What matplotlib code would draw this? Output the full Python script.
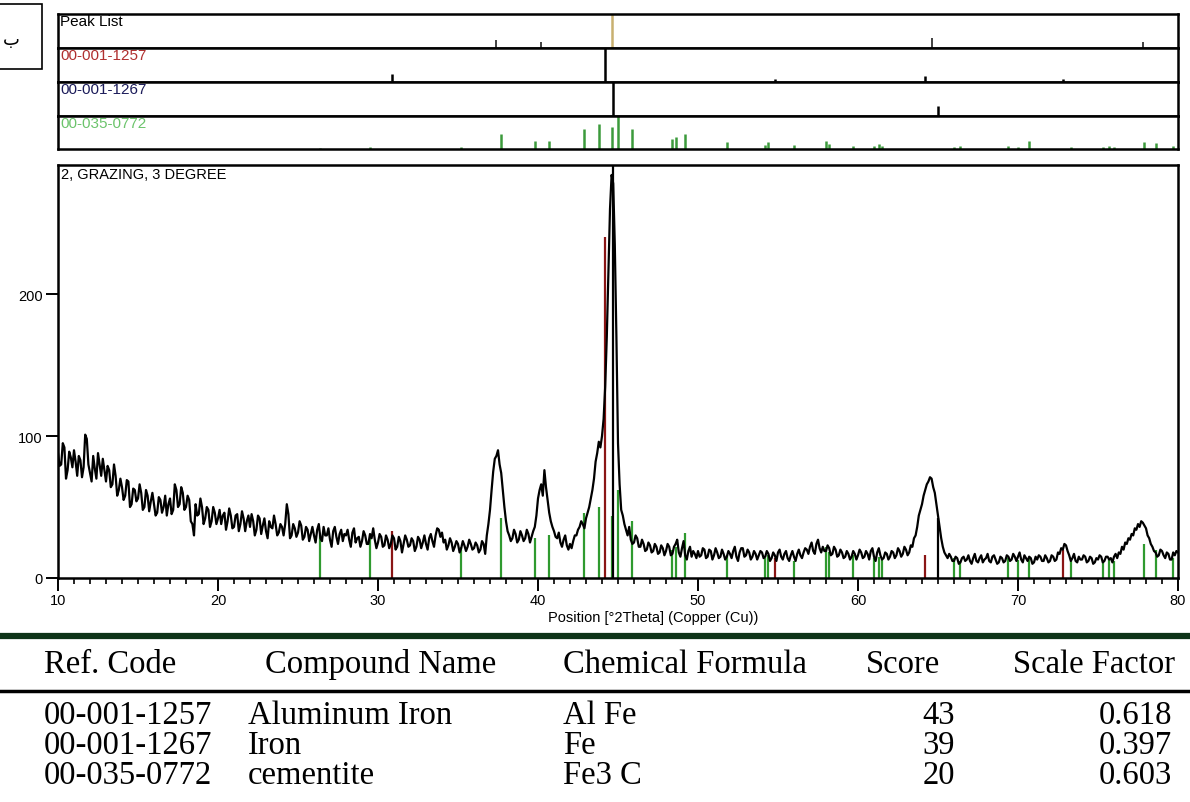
"""
XRD pattern with reference stick strips and phase table
"""
import numpy as np
import matplotlib
matplotlib.use('Agg')
import matplotlib.pyplot as plt
from matplotlib.patches import Rectangle
from matplotlib.lines import Line2D

# ---- measured pattern (counts, 0.1 deg step from 10 to 80, one row per degree) ----
two_theta = np.linspace(10, 80, 701)
counts = [
    88, 79, 80, 95, 92, 70, 76, 89, 85, 78,
    90, 82, 72, 86, 83, 71, 78, 101, 98, 80,
    74, 68, 86, 77, 70, 88, 80, 72, 84, 76,
    68, 79, 76, 64, 66, 80, 72, 58, 62, 70,
    64, 55, 58, 69, 68, 50, 52, 63, 62, 54,
    56, 66, 60, 48, 50, 62, 58, 47, 54, 60,
    52, 44, 46, 57, 55, 46, 50, 58, 44, 52,
    56, 45, 48, 66, 62, 50, 52, 64, 60, 48,
    50, 58, 55, 40, 38, 30, 52, 44, 45, 56,
    50, 38, 42, 50, 48, 36, 40, 50, 46, 38,
    42, 48, 38, 44, 46, 34, 40, 49, 44, 35,
    36, 44, 45, 33, 38, 47, 42, 33, 40, 44,
    36, 45, 40, 30, 34, 44, 42, 31, 37, 42,
    33, 28, 40, 36, 35, 44, 38, 30, 32, 38,
    36, 30, 38, 52, 45, 28, 30, 38, 35, 29,
    32, 40, 37, 27, 29, 36, 34, 26, 31, 36,
    30, 25, 34, 38, 28, 26, 36, 30, 30, 35,
    27, 22, 33, 36, 29, 24, 31, 34, 26, 31,
    30, 34, 27, 22, 32, 35, 25, 28, 29, 22,
    26, 33, 30, 24, 24, 31, 28, 35, 27, 21,
    25, 31, 29, 22, 23, 30, 27, 21, 24, 30,
    28, 20, 22, 29, 26, 18, 24, 30, 27, 22,
    23, 28, 26, 19, 22, 29, 27, 21, 25, 30,
    24, 20, 28, 31, 26, 22, 30, 35, 34, 29,
    32, 25, 27, 20, 23, 28, 25, 19, 22, 26,
    24, 18, 21, 26, 23, 19, 22, 27, 24, 20,
    21, 25, 23, 18, 20, 26, 24, 17, 30, 38,
    48, 62, 75, 84, 86, 90, 80, 74, 62, 50,
    40, 33, 30, 26, 28, 34, 31, 25, 27, 33,
    30, 26, 28, 34, 31, 25, 29, 33, 36, 44,
    56, 62, 66, 58, 76, 64, 55, 46, 40, 36,
    33, 29, 28, 32, 25, 22, 27, 30, 23, 20,
    24, 21, 26, 30, 30, 34, 36, 40, 38, 35,
    42, 46, 50, 56, 62, 70, 82, 88, 96, 92,
    100, 112, 135, 170, 215, 260, 284, 278, 235, 170,
    95, 66, 48, 44, 38, 34, 30, 36, 27, 24,
    25, 30, 28, 22, 22, 27, 24, 19, 20, 25,
    23, 18, 19, 24, 22, 17, 18, 23, 21, 16,
    19, 24, 22, 16, 17, 22, 24, 27, 18, 15,
    21, 26, 16, 13, 19, 22, 15, 19, 17, 14,
    19, 15, 16, 21, 20, 14, 15, 20, 19, 13,
    16, 21, 18, 14, 15, 20, 17, 13, 15, 19,
    17, 14, 19, 22, 15, 12, 18, 21, 21, 15,
    16, 20, 18, 13, 15, 19, 17, 13, 16, 19,
    18, 14, 15, 19, 17, 12, 14, 18, 16, 12,
    18, 20, 15, 13, 17, 19, 14, 12, 16, 19,
    15, 12, 17, 20, 16, 14, 18, 21, 20, 17,
    22, 25, 19, 17, 24, 27, 21, 18, 22, 19,
    19, 23, 21, 16, 17, 22, 20, 15, 16, 20,
    18, 14, 15, 19, 17, 13, 15, 19, 17, 13,
    16, 20, 18, 14, 15, 19, 17, 13, 19, 21,
    15, 12, 18, 21, 16, 13, 14, 18, 17, 13,
    15, 19, 18, 14, 16, 21, 19, 15, 17, 22,
    20, 16, 18, 23, 22, 28, 30, 36, 44, 48,
    52, 58, 62, 66, 68, 71, 70, 64, 60, 52,
    44, 36, 28, 22, 18, 16, 14, 17, 15, 12,
    12, 15, 14, 10, 11, 14, 15, 12, 13, 16,
    12, 10, 14, 17, 12, 11, 14, 16, 11, 13,
    14, 17, 12, 11, 15, 16, 13, 10, 11, 15,
    14, 11, 12, 16, 15, 12, 13, 17, 15, 12,
    15, 18, 13, 11, 16, 14, 12, 15, 14, 10,
    11, 15, 13, 16, 15, 12, 12, 16, 14, 11,
    12, 16, 15, 12, 13, 18, 17, 21, 20, 24,
    23, 19, 16, 12, 14, 17, 12, 11, 15, 13,
    13, 16, 15, 11, 12, 15, 14, 10, 11, 14,
    13, 16, 15, 11, 12, 15, 15, 13, 14, 11,
    15, 17, 14, 18, 17, 22, 20, 25, 24, 28,
    27, 31, 30, 35, 34, 38, 36, 40, 39, 37,
    35, 30, 28, 24, 22, 19, 18, 15, 16, 20,
    19, 16, 14, 18, 17, 13, 13, 18, 16, 19,
    18,
]

# ---- peak list / reference patterns ----
peak_pos = [37.4, 40.2, 44.6, 64.6, 77.8]
peak_rel = [0.22, 0.15, 1.0, 0.28, 0.15]

alfe_pos = [30.9, 44.2, 54.8, 64.2, 72.8]
alfe_rel = [0.22, 1.0, 0.08, 0.15, 0.08]
alfe_main = [33, 240, 14, 16, 20]

fe_pos = [44.7, 65.0]
fe_rel = [1.0, 0.28]
fe_main = [291, 42]

cem_pos = [26.4, 29.5, 35.2, 37.7, 39.8, 40.7, 42.9, 43.8, 44.6, 45.0,
           45.9, 48.4, 48.6, 49.2, 51.8, 54.2, 54.4, 56.0, 58.0, 58.2,
           59.7, 61.0, 61.3, 61.5, 66.0, 66.4, 69.4, 70.0, 70.7, 73.3,
           75.3, 75.7, 76.0, 77.9, 78.6, 79.7]
cem_rel = [0.04, 0.05, 0.06, 0.45, 0.25, 0.25, 0.6, 0.75, 0.65, 1.0,
           0.6, 0.3, 0.35, 0.45, 0.2, 0.12, 0.2, 0.12, 0.25, 0.15,
           0.1, 0.1, 0.15, 0.1, 0.06, 0.1, 0.08, 0.05, 0.25, 0.06,
           0.06, 0.08, 0.06, 0.2, 0.18, 0.08]
cem_main = [30, 28, 22, 42, 28, 30, 46, 50, 44, 62,
            40, 20, 22, 32, 16, 14, 16, 12, 22, 18,
            16, 14, 15, 13, 14, 12, 14, 13, 15, 12,
            12, 14, 12, 24, 20, 14]

strip_labels = ['Peak List', '00-001-1257', '00-001-1267', '00-035-0772']

# ---- table ----
table_header = ['Ref. Code', 'Compound Name', 'Chemical Formula', 'Score', 'Scale Factor']
ref_codes = ['00-001-1257', '00-001-1267', '00-035-0772']
compound_names = ['Aluminum Iron', 'Iron', 'cementite']
formulas = ['Al Fe', 'Fe', 'Fe3 C']
scores = [43, 39, 20]
scale_factors = [0.618, 0.397, 0.603]

W, H = 1190, 803
fig = plt.figure(figsize=(W / 100, H / 100), dpi=100)
SANS = 'Liberation Sans'
SERIF = 'Liberation Serif'


def add_ax(left, top, right, bottom):
    return fig.add_axes([left / W, 1 - bottom / H, (right - left) / W, (bottom - top) / H])


def fy(py):
    return 1 - py / H


# stick strips
strip_edges = [15, 48.5, 82.5, 116.5, 150]
strip_data = [(peak_pos, peak_rel, 'black'),
              (alfe_pos, alfe_rel, 'black'),
              (fe_pos, fe_rel, 'black'),
              (cem_pos, cem_rel, '#3c9a3c')]
label_colors = ['black', '#b03030', '#1c1c5a', '#6cc46c']

for i, (pos, rel, col) in enumerate(strip_data):
    sax = add_ax(58, strip_edges[i], 1178, strip_edges[i + 1])
    sax.set_xlim(10, 80)
    sax.set_ylim(0, 1)
    sax.set_xticks([])
    sax.set_yticks([])
    for sp in sax.spines.values():
        sp.set_linewidth(1.8)
    if i == 0:
        pos = np.array(pos)
        rel = np.array(rel)
        tall = rel >= 1.0
        sax.vlines(pos[~tall], 0, rel[~tall], colors='#333333', lw=1.3)
        sax.vlines(pos[tall], 0, rel[tall], colors='#c8b070', lw=1.8)
    else:
        sax.vlines(pos, 0, rel, colors=col, lw=1.8)
    sax.text(0.002, 0.99, strip_labels[i], transform=sax.transAxes,
             ha='left', va='top', fontsize=11, family=SANS, color=label_colors[i])

# main pattern
ax = add_ax(58, 166, 1178, 579)
ax.vlines(cem_pos, 0, cem_main, colors='#2f9a2f', lw=1.6, zorder=1)
ax.vlines(alfe_pos, 0, alfe_main, colors='#8a1515', lw=1.6, zorder=1)
ax.vlines(fe_pos, 0, fe_main, colors='black', lw=1.6, zorder=1)
ax.plot(two_theta, counts, color='black', lw=1.6, zorder=2)

ax.set_xlim(10, 80)
ax.set_ylim(0, 291)
ax.set_xticks(range(10, 81, 10))
ax.set_xticks(range(10, 81, 1), minor=True)
ax.set_yticks([0, 100, 200])
ax.tick_params(axis='both', which='major', direction='out', length=9, width=1.4,
               labelsize=10.5, pad=2)
ax.tick_params(axis='x', which='minor', direction='out', length=4, width=1.2)
for lab in ax.get_xticklabels() + ax.get_yticklabels():
    lab.set_family(SANS)
for sp in ax.spines.values():
    sp.set_linewidth(1.8)
fig.text(653 / W, fy(618), 'Position [°2Theta] (Copper (Cu))', ha='center', va='center',
         fontsize=10.5, family=SANS)
ax.text(0.003, 0.995, '2, GRAZING, 3 DEGREE', transform=ax.transAxes,
        ha='left', va='top', fontsize=10.5, family=SANS)

# corner box
fig.patches.append(Rectangle((-2 / W, fy(70)), 44 / W, 65 / H, transform=fig.transFigure,
                             fill=False, edgecolor='black', lw=1.2))
fig.text(3 / W, fy(40), 'ب', ha='left', va='center', fontsize=13, family='DejaVu Sans')

# table
fig.add_artist(Line2D([0, 1], [fy(637), fy(637)], transform=fig.transFigure,
                      color='#0d3318', lw=4.5))
fig.add_artist(Line2D([0, 1], [fy(692), fy(692)], transform=fig.transFigure,
                      color='black', lw=2.5))

tfont = dict(family=SERIF, fontsize=23.5, va='center')
header_x = [(44, 'left'), (265, 'left'), (563, 'left'), (940, 'right'), (1175, 'right')]
for (hx, ha), txt in zip(header_x, table_header):
    fig.text(hx / W, fy(665), txt, ha=ha, **tfont)

row_y = [716, 746, 776]
for ry, code, name, form, sc, sf in zip(row_y, ref_codes, compound_names, formulas,
                                         scores, scale_factors):
    fig.text(44 / W, fy(ry), code, ha='left', **tfont)
    fig.text(248 / W, fy(ry), name, ha='left', **tfont)
    fig.text(563 / W, fy(ry), form, ha='left', **tfont)
    fig.text(955 / W, fy(ry), str(sc), ha='right', **tfont)
    fig.text(1172 / W, fy(ry), f'{sf:.3f}', ha='right', **tfont)

fig.savefig('out.png', dpi=100)
plt.close(fig)
